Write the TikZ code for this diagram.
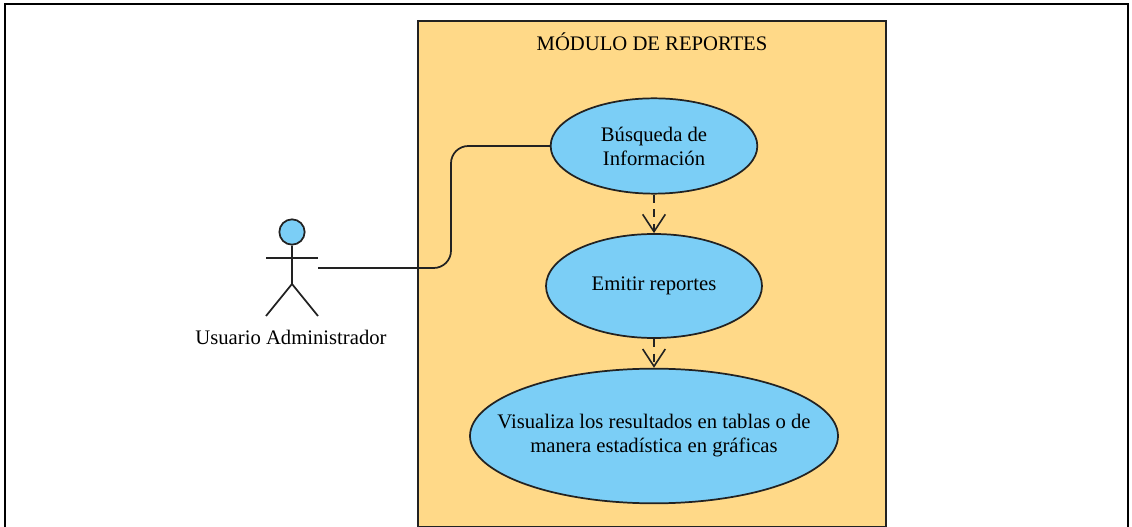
\documentclass[tikz,border=0pt]{standalone}
\usepackage{amsmath}
\usepackage{fontspec}
\setmainfont{Liberation Serif}
\usetikzlibrary{arrows.meta}
\usetikzlibrary{shapes.geometric}
\definecolor{panelfill}{HTML}{FFD988}
\definecolor{casefill}{HTML}{7BCEF6}
\definecolor{strokegray}{HTML}{222222}
\tikzset{
    usecase/.style={draw=strokegray, fill=casefill, ellipse, line width=1.3pt, inner xsep=-20pt, inner ysep=0pt, align=center, font=\fontsize{15.5}{18}\selectfont},
    include/.style={draw=strokegray, line width=1.2pt, dash pattern=on 6pt off 5pt, -{Straight Barb[length=13pt,width=17pt,line width=1.2pt]}},
    actorline/.style={draw=strokegray, line width=1.3pt},
}
\begin{document}
\begin{tikzpicture}[x=0.75pt, y=-0.75pt]

                \useasboundingbox (0,0) rectangle (1132,527);

                % Outer frame
                \draw[black, line width=1.6pt] (5,527) -- (5,4) -- (1128,4) -- (1128,527);

                % Module panel
                \node
                [
                    draw=strokegray,
                    fill=panelfill,
                    line width=1.3pt,
                    minimum width=351pt,
                    minimum height=379pt,
                    inner sep=0pt,
                ] (panel) at (652,274) {};
                \node[font=\fontsize{15.5}{18}\selectfont] (title) at (652,42) {MÓDULO DE REPORTES};

                % Use cases
                \node[usecase, minimum width=155pt, minimum height=71.5pt] (search) at (654,146) {Búsqueda de\\Información};
                \node[usecase, minimum width=162pt, minimum height=78pt] (emit) at (654,286) {Emitir reportes};
                \node[usecase, minimum width=276pt, minimum height=101pt] (show) at (654,436) {Visualiza los resultados en tablas o de\\manera estadística en gráficas};

                % Includes
                \draw[include] (search.south) -- (emit.north);
                \draw[include] (emit.south) -- (show.north);

                % Actor
                \node[draw=strokegray, fill=casefill, circle, line width=1.3pt, minimum size=19pt, inner sep=0pt] (head) at (292,232) {};
                \coordinate (hip) at (292,284);
                \coordinate (armL) at (266,258);
                \coordinate (armR) at (318,258);
                \coordinate (footL) at (266,316);
                \coordinate (footR) at (318,316);
                \draw[actorline] (head.south) -- (hip) -- (footL) (hip) -- (footR);
                \draw[actorline] (armL) -- (armR);
                \node[font=\fontsize{15.5}{18}\selectfont] (actor) at (291,337) {Usuario Administrador};

                % Association
                \coordinate (start) at (318,268);
                \draw[actorline, rounded corners=13pt] (start) -- (451,268) -- (451,146) -- (search.west);

\end{tikzpicture}
\end{document}
